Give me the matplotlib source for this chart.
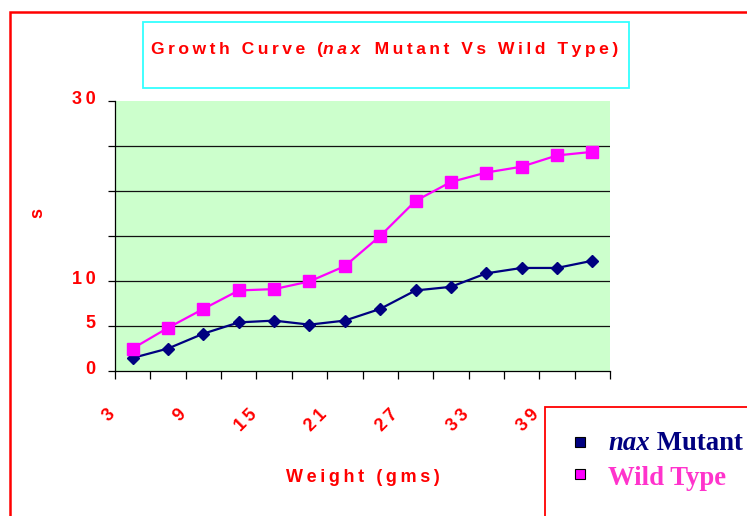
import numpy as np
import matplotlib
matplotlib.use("Agg")
import matplotlib.pyplot as plt
from matplotlib.patches import Rectangle
from matplotlib.lines import Line2D
from matplotlib.transforms import ScaledTranslation, blended_transform_factory

# growth data: weight categories (gms) and the two series
weights = [3, 6, 9, 12, 15, 18, 21, 24, 27, 30, 33, 36, 39, 42]
nax_mutant = [1.45, 2.5, 4.15, 5.4, 5.6, 5.15, 5.6, 6.9, 8.95, 9.35, 10.85, 11.45, 11.45, 12.25]
wild_type = [2.5, 4.8, 6.9, 8.95, 9.1, 9.95, 11.65, 15.0, 18.9, 21.0, 22.05, 22.7, 23.95, 24.35]
y_ticks = [0, 5, 10, 15, 20, 25, 30]
y_ticklabels = ["0", "5", "10", "", "", "", "30"]

RED = "#ff0000"
NAVY = "#000080"
MAGENTA = "#ff00ff"
SANS = ["Liberation Sans", "DejaVu Sans"]
SERIF = "Liberation Serif"
FS = 13
W, H = 747, 516


def spread(s):
    """Excel-style expanded letter spacing (thin space between glyphs)."""
    return "\u2009".join(s)


def fx(px):
    return px / W


def fy(py):
    return 1 - py / H


red_kw = dict(color=RED, fontsize=FS, fontweight="bold", family=SANS)
title_kw = dict(red_kw, fontsize=12.6)

fig = plt.figure(figsize=(W / 100, H / 100), dpi=100)
fig.patch.set_facecolor("white")

# outer chart border and title box
fig.add_artist(Rectangle((fx(9.5), -0.05), 1.1, fy(12) + 0.05, transform=fig.transFigure,
                         fill=False, ec=RED, lw=1.8, clip_on=False))
fig.add_artist(Rectangle((fx(143), fy(88)), fx(629) - fx(143), fy(22) - fy(88),
                         transform=fig.transFigure, fill=False, ec="#33ffff", lw=1.3))

ax = fig.add_axes([fx(115), fy(371), fx(610) - fx(115), fy(101) - fy(371)])
ax.set_facecolor("#ccffcc")
n = len(weights)
x = np.arange(n)
ax.set_xlim(-0.5, n - 0.5)
ax.set_ylim(y_ticks[0], y_ticks[-1])
for side in ("top", "right"):
    ax.spines[side].set_visible(False)
for side in ("left", "bottom"):
    ax.spines[side].set_linewidth(0.9)

ax.hlines(y_ticks[1:-1], -0.5, n - 0.5, colors="#111111", lw=0.9, zorder=1)

ax.plot(x, nax_mutant, "-D", color=NAVY, lw=1.6, ms=6, mec=NAVY, zorder=3)
ax.plot(x, wild_type, "-s", color=MAGENTA, lw=1.6, ms=8.5, mec=MAGENTA, zorder=3)

# y axis: ticks every 5, only some labelled
ax.set_yticks(y_ticks)
ax.set_yticklabels([spread(t) for t in y_ticklabels], **red_kw)
ax.tick_params(axis="y", direction="out", length=5, width=0.9, pad=9)
up = ScaledTranslation(0, 4 / 100, fig.dpi_scale_trans)
for lab in ax.get_yticklabels():
    lab.set_transform(lab.get_transform() + up)

# x axis: tick marks on category boundaries, every other category labelled
ax.set_xticks(np.arange(n + 1) - 0.5)
ax.set_xticklabels([])
ax.tick_params(axis="x", direction="out", length=6, width=0.9)
lab_tf = blended_transform_factory(ax.transData, ax.transAxes) + \
    ScaledTranslation(-20 / 100, -41 / 100, fig.dpi_scale_trans)
for i in range(0, n, 2):
    ax.text(i, 0, spread(str(weights[i])), transform=lab_tf, rotation=45,
            rotation_mode="anchor", ha="right", va="center", **red_kw)

fig.text(fx(362.5), fy(478), spread("Weight (gms)"), ha="center", va="center", **red_kw)
fig.text(fx(38), fy(213), "s", ha="center", va="center", rotation=90, **red_kw)

# title pieces, chained left to right
t1 = fig.text(fx(151), fy(54), spread("Growth Curve ("), ha="left", va="baseline", **title_kw)
t2 = fig.add_artist(plt.Annotation(spread("nax"), xy=(1, 0), xycoords=t1, va="bottom",
                                   style="italic", **title_kw))
fig.add_artist(plt.Annotation("   " + spread("Mutant Vs Wild Type)"), xy=(1, 0), xycoords=t2,
                              va="bottom", **title_kw))

# legend
fig.add_artist(Rectangle((fx(545), -0.05), 0.5, fy(407) + 0.05, transform=fig.transFigure,
                         fill=False, ec=RED, lw=1.3, clip_on=False))
fig.add_artist(Line2D([fx(580)], [fy(442)], marker="s", ms=7, mfc=NAVY, mec="black",
                      mew=0.8, transform=fig.transFigure))
fig.add_artist(Line2D([fx(580)], [fy(474)], marker="s", ms=7, mfc=MAGENTA, mec="black",
                      mew=0.8, transform=fig.transFigure))
l1 = fig.text(fx(608), fy(450), "nax", ha="left", va="baseline", color=NAVY,
              fontsize=19.3, fontweight="bold", style="italic", family=SERIF)
fig.add_artist(plt.Annotation(" Mutant", xy=(1, 0), xycoords=l1, va="bottom", color=NAVY,
                              fontsize=19.3, fontweight="bold", family=SERIF))
fig.text(fx(608), fy(485), "Wild Type", ha="left", va="baseline", color="#ff33cc",
         fontsize=19.3, fontweight="bold", family=SERIF)

fig.savefig("out.png", dpi=100)
